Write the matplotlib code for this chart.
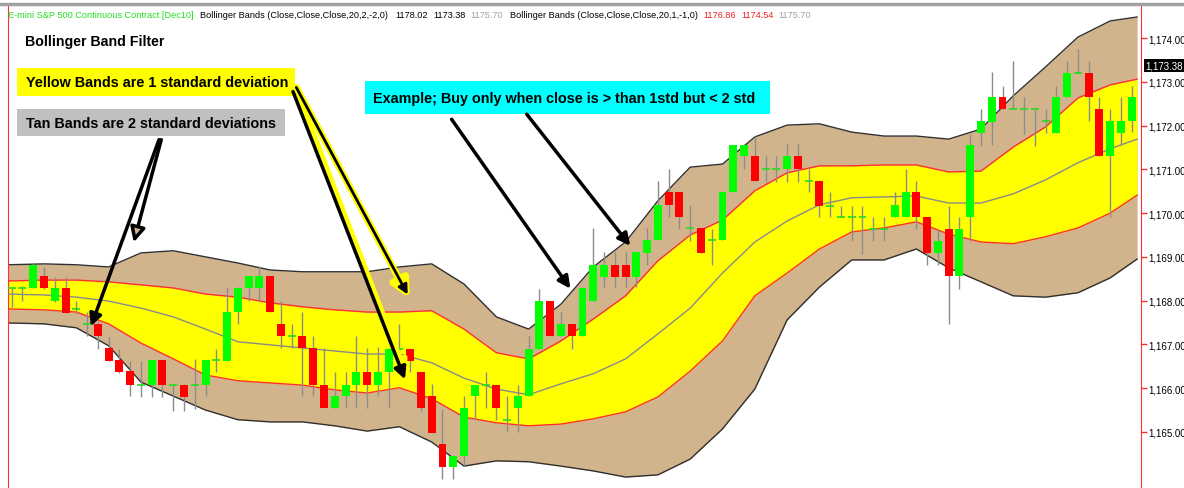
import matplotlib
matplotlib.use('Agg')
import matplotlib.pyplot as plt
from matplotlib.patches import Rectangle, FancyArrowPatch
from matplotlib.lines import Line2D
from matplotlib.ticker import FuncFormatter
import numpy as np

# ---------------- data ----------------
bar_open = [1168.29,1168.29,1168.29,1168.56,1167.99,1168.29,1167.81,1167.47,1167.47,1166.92,
            1166.65,1166.39,1166.07,1166.07,1166.65,1166.07,1166.07,1166.07,1166.07,1166.65,
            1166.62,1167.74,1168.29,1168.29,1168.56,1167.47,1167.19,1167.19,1166.92,1166.07,
            1165.55,1165.82,1166.07,1166.37,1166.07,1166.37,1166.90,1166.90,1166.37,1165.82,
            1164.73,1164.20,1164.45,1165.82,1166.07,1166.07,1165.28,1165.55,1165.82,1166.90,
            1167.99,1167.19,1167.47,1167.19,1167.99,1168.54,1168.82,1168.82,1168.54,1169.09,
            1169.39,1170.48,1170.48,1169.66,1169.66,1169.39,1169.39,1170.48,1171.31,1171.31,
            1171.01,1171.01,1171.01,1171.31,1170.73,1170.73,1170.16,1169.91,1169.91,1169.91,
            1169.64,1169.64,1169.91,1169.91,1170.48,1169.91,1169.09,1169.64,1168.56,1169.91,
            1171.83,1172.08,1172.65,1172.38,1172.38,1172.38,1172.10,1171.83,1172.65,1173.20,
            1173.20,1172.38,1171.31,1171.83,1172.10]
bar_high = [1168.29,1168.34,1168.86,1168.77,1168.54,1168.54,1167.99,1167.74,1167.51,1167.17,
            1166.90,1166.62,1166.62,1166.65,1166.65,1166.07,1166.10,1166.67,1166.65,1166.90,
            1168.31,1168.31,1168.56,1168.79,1168.56,1167.99,1167.47,1167.74,1167.19,1166.92,
            1166.37,1166.37,1167.19,1166.92,1166.94,1166.92,1167.47,1166.90,1166.37,1166.10,
            1165.53,1164.48,1165.82,1166.07,1166.37,1166.07,1165.82,1166.07,1167.19,1168.27,
            1167.99,1167.74,1167.47,1168.29,1169.66,1169.11,1169.11,1169.11,1169.11,1169.66,
            1170.73,1171.01,1170.48,1170.19,1169.66,1169.64,1170.48,1171.56,1171.58,1171.76,
            1171.31,1171.31,1171.58,1171.58,1171.01,1170.73,1170.48,1170.16,1170.16,1170.16,
            1169.91,1169.91,1170.48,1171.01,1170.73,1169.91,1169.64,1170.16,1169.91,1171.81,
            1172.38,1173.22,1172.90,1173.47,1172.65,1172.38,1172.38,1172.90,1173.47,1173.75,
            1173.47,1172.65,1172.38,1172.65,1172.90]
bar_low = [1167.86,1167.99,1168.29,1168.27,1167.97,1167.72,1167.72,1167.19,1166.90,1166.62,
           1166.35,1165.82,1165.80,1165.80,1165.80,1165.48,1165.48,1165.53,1165.82,1166.37,
           1166.62,1167.47,1167.99,1167.99,1167.74,1166.92,1166.92,1165.82,1165.82,1165.55,
           1165.55,1165.55,1165.55,1165.55,1165.82,1165.57,1166.62,1166.37,1165.48,1164.98,
           1163.93,1163.93,1164.22,1165.28,1165.55,1165.28,1165.00,1165.00,1165.82,1166.90,
           1167.19,1167.19,1166.90,1167.19,1167.99,1168.29,1168.31,1168.31,1168.31,1168.82,
           1169.39,1169.91,1169.64,1169.36,1169.09,1168.82,1169.39,1170.48,1171.01,1170.73,
           1170.71,1170.71,1170.71,1170.71,1170.48,1169.91,1169.91,1169.91,1169.36,1169.07,
           1169.36,1169.36,1169.91,1169.91,1169.64,1168.82,1168.82,1167.47,1168.27,1169.36,
           1171.53,1171.56,1172.38,1172.38,1171.81,1171.53,1171.83,1171.83,1172.65,1173.20,
           1172.10,1171.31,1169.91,1171.56,1171.85]
bar_close = [1168.29,1168.29,1168.82,1168.29,1168.29,1167.72,1167.81,1167.47,1167.19,1166.62,
             1166.37,1166.07,1166.07,1166.65,1166.07,1166.07,1165.80,1166.07,1166.65,1166.65,
             1167.74,1168.29,1168.56,1168.56,1167.74,1167.19,1167.19,1166.92,1166.07,1165.55,
             1165.82,1166.07,1166.37,1166.07,1166.37,1166.90,1166.90,1166.62,1165.55,1164.98,
             1164.20,1164.45,1165.55,1166.07,1166.07,1165.55,1165.28,1165.82,1166.90,1167.99,
             1167.19,1167.47,1167.19,1168.29,1168.82,1168.82,1168.54,1168.54,1169.11,1169.39,
             1170.19,1170.19,1169.91,1169.66,1169.09,1169.39,1170.48,1171.56,1171.56,1170.73,
             1171.01,1171.01,1171.31,1171.01,1170.73,1170.16,1170.16,1169.91,1169.91,1169.91,
             1169.64,1169.64,1170.19,1170.48,1169.91,1169.09,1169.36,1168.56,1169.64,1171.56,
             1172.10,1172.65,1172.38,1172.38,1172.38,1172.38,1172.10,1172.65,1173.20,1173.20,
             1172.65,1171.31,1172.10,1172.10,1172.65]

band_pos = [-0.3, 3, 6, 9, 12, 15, 18, 21, 24, 27, 30, 33, 36, 39, 42, 45, 48, 51, 54, 57,
            60, 63, 66, 69, 72, 75, 78, 81, 84, 87, 90, 93, 96, 99, 102, 104.5]
upper_2sd = [1168.82,1168.84,1168.82,1168.77,1169.09,1169.14,1169.00,1168.86,1168.70,1168.66,
             1168.66,1168.66,1168.77,1168.84,1168.38,1167.63,1167.35,1167.92,1168.77,1169.34,
             1170.28,1171.05,1171.12,1171.74,1172.01,1172.04,1171.85,1171.76,1171.76,1171.69,
             1171.92,1172.68,1173.34,1174.02,1174.39,1174.48]
upper_1sd = [1168.45,1168.47,1168.47,1168.43,1168.36,1168.29,1168.15,1168.08,1167.95,1167.86,
             1167.79,1167.74,1167.74,1167.77,1167.35,1166.81,1166.67,1167.08,1167.58,1168.11,
             1168.91,1169.50,1169.84,1170.51,1170.92,1171.08,1171.08,1171.10,1171.10,1170.94,
             1170.96,1171.51,1171.97,1172.63,1172.93,1173.06]
middle = [1168.15,1168.13,1168.08,1167.99,1167.83,1167.63,1167.35,1167.06,1166.99,1166.92,
          1166.85,1166.78,1166.78,1166.58,1166.23,1165.98,1165.85,1166.10,1166.33,1166.67,
          1167.24,1167.83,1168.63,1169.34,1169.82,1170.19,1170.35,1170.37,1170.39,1170.23,
          1170.23,1170.44,1170.76,1171.15,1171.47,1171.69]
lower_1sd = [1167.81,1167.79,1167.74,1167.47,1167.03,1166.67,1166.30,1166.17,1166.12,1166.07,
             1165.96,1165.89,1166.01,1165.76,1165.34,1165.21,1165.14,1165.18,1165.30,1165.46,
             1165.80,1166.39,1167.08,1168.11,1168.63,1169.18,1169.57,1169.66,1169.80,1169.52,
             1169.34,1169.30,1169.46,1169.66,1170.00,1170.41]
lower_2sd = [1167.49,1167.47,1167.38,1166.97,1166.14,1165.82,1165.50,1165.28,1165.23,1165.23,
             1165.14,1165.02,1165.12,1164.77,1164.22,1164.34,1164.32,1164.22,1164.11,1163.97,
             1164.02,1164.38,1165.07,1165.98,1167.56,1168.31,1168.93,1168.93,1169.18,1168.75,
             1168.43,1168.11,1168.08,1168.18,1168.52,1168.95]

price_ticks = [1165, 1166, 1167, 1168, 1169, 1170, 1171, 1172, 1173, 1174]
last_value = 1173.38

header_parts = [
    ("E-mini S&P 500 Continuous Contract [Dec10]", "#22dd22"),
    ("Bollinger Bands (Close,Close,Close,20,2,-2,0)", "black"),
    ("1178.02", "black"),
    ("1173.38", "black"),
    ("1175.70", "#a0a0a0"),
    ("Bollinger Bands (Close,Close,Close,20,1,-1,0)", "black"),
    ("1176.86", "#ee2020"),
    ("1174.54", "#ee2020"),
    ("1175.70", "#a0a0a0"),
]

# ---------------- figure ----------------
W, H = 1184, 489
plt.rcParams['font.family'] = ['Liberation Sans', 'DejaVu Sans']
fig = plt.figure(figsize=(W / 100, H / 100), dpi=100)


def P(x, y):
    return (x / W, 1 - y / H)


ax = fig.add_axes([8 / W, 0, (1141 - 8) / W, (489 - 5) / H])
ax.set_xlim(-0.344, 104.86)
ax.set_ylim(1163.72, 1174.777)

# bands
ax.fill_between(band_pos, lower_2sd, upper_2sd, color='#D2B48C', lw=0, zorder=1)
ax.plot(band_pos, upper_2sd, color='#303030', lw=1, zorder=1.5)
ax.plot(band_pos, lower_2sd, color='#303030', lw=1, zorder=1.5)
ax.fill_between(band_pos, lower_1sd, upper_1sd, color='#FFFF00', lw=0, zorder=2)
ax.plot(band_pos, upper_1sd, color='#FF3030', lw=1, zorder=2.5)
ax.plot(band_pos, lower_1sd, color='#FF3030', lw=1, zorder=2.5)
ax.plot(band_pos, middle, color='#8a8a8a', lw=1, zorder=2.6)

# candles
idx = np.arange(len(bar_open))
o = np.array(bar_open); c = np.array(bar_close)
hi = np.array(bar_high); lo = np.array(bar_low)
ax.vlines(idx, lo, hi, color='#8c8c8c', lw=1, zorder=3)
bw = 0.74
up = c > o
dn = c < o
dj = c == o
ax.bar(idx[up], (c - o)[up], bottom=o[up], width=bw, color='#00FF00', lw=0, zorder=4)
ax.bar(idx[dn], (o - c)[dn], bottom=c[dn], width=bw, color='#FF0000', lw=0, zorder=4)
ax.hlines(c[dj], idx[dj] - bw / 2, idx[dj] + bw / 2, color='#22DD22', lw=1.2, zorder=4)

# axes styling
ax.set_xticks([])
ax.yaxis.tick_right()
ax.set_yticks(price_ticks)
ax.yaxis.set_major_formatter(FuncFormatter(lambda v, p: f"{v:,.2f}"))
ax.tick_params(axis='y', colors='#ff3030', labelcolor='black', length=4, width=1,
               labelsize=7, pad=1)
for s in ('top', 'bottom'):
    ax.spines[s].set_visible(False)
ax.spines['left'].set_color('#ff3030')
ax.spines['right'].set_color('#ff3030')
ax.annotate(f"{last_value:,.2f}", xy=(1.0, last_value), xycoords=('axes fraction', 'data'),
            xytext=(3, 0), textcoords='offset points', va='center', ha='left',
            fontsize=7, color='white',
            bbox=dict(boxstyle='square,pad=0.15', fc='black', ec='none'))

# top grey line
fig.add_artist(Line2D([0, 1], [1 - 5 / H, 1 - 5 / H], color='#a0a0a0', lw=2.5))

# header, laid out left to right
renderer = fig.canvas.get_renderer()
xcur = 8
gaps = [6, 8, 5, 5, 7, 6, 5, 5, 0]
for (txt, col), g in zip(header_parts, gaps):
    t = fig.text(xcur / W, 1 - 15 / H, txt, color=col, fontsize=6.6, va='center', ha='left')
    bb = t.get_window_extent(renderer=renderer)
    xcur = bb.x1 + g

# title & boxes
fig.text(25 / W, 1 - 42 / H, "Bollinger Band Filter", fontsize=10.2, fontweight='bold',
         va='center', ha='left')


def box(x0, y0, x1, y1, fc, text, tx):
    fig.add_artist(Rectangle(P(x0, y1), (x1 - x0) / W, (y1 - y0) / H,
                             transform=fig.transFigure, fc=fc, ec='none', zorder=5))
    fig.text(tx / W, 1 - (y0 + y1) / 2 / H, text, fontsize=10.4, fontweight='bold',
             va='center', ha='left', zorder=6)


box(17, 69, 295, 97, '#FFFF00', "Yellow Bands are 1 standard deviation", 26)
box(17, 110, 285, 137, '#C0C0C0', "Tan Bands are 2 standard deviations", 26)
box(365, 82, 770, 115, '#00FFFF', "Example; Buy only when close is > than 1std but < 2 std", 373)


# arrows
def arrow(tail, tip, color='black', lw=2.5, ms=18, fc=None, zo=7):
    fig.add_artist(FancyArrowPatch(
        P(*tail), P(*tip), transform=fig.transFigure, arrowstyle='-|>',
        mutation_scale=ms, lw=lw, color=color, fc=fc if fc else color, zorder=zo))


arrow((162, 138), (133, 246), fc='#D2B48C', ms=22)
arrow((160, 138), (90, 330))
arrow((295, 86), (411, 302), color='#FFFF00', lw=5, ms=26, zo=7)
arrow((295, 86), (409, 298), color='black', lw=2, ms=14, zo=8)
arrow((296, 90), (407, 378), color='#FFFF00', lw=4, zo=7)
arrow((292, 90), (406, 383), color='black', lw=2.5, zo=8)
arrow((450, 118), (572, 292))
arrow((525, 113), (632, 249))

fig.savefig('out.png', dpi=100)
